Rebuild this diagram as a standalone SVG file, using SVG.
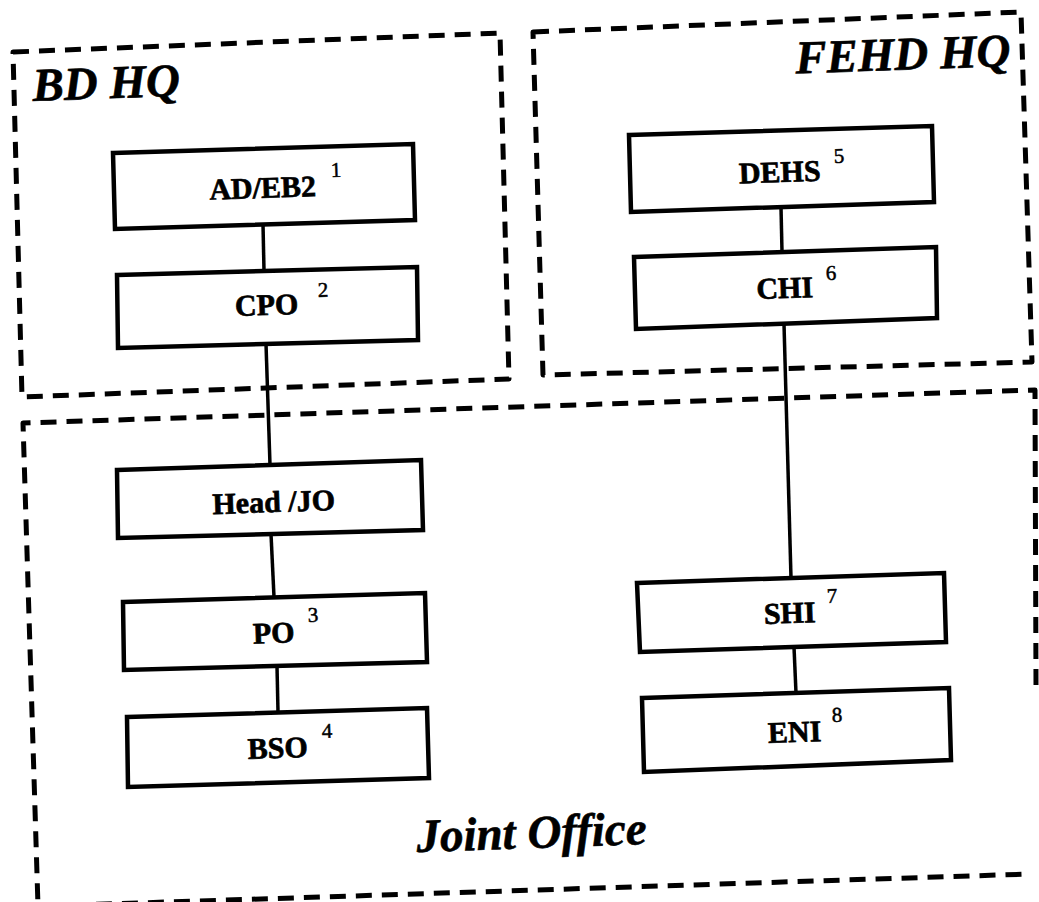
<svg xmlns="http://www.w3.org/2000/svg" width="1039" height="902" viewBox="0 0 1039 902">
<style>
.grp{fill:none;stroke:#000;stroke-width:5;stroke-dasharray:16 10;stroke-linejoin:round}
.box{fill:#fff;stroke:#000;stroke-width:4.5;stroke-linejoin:miter}
.conn{fill:none;stroke:#000;stroke-width:3.5}
.lbl{font-family:"Liberation Serif","Times New Roman",serif;font-weight:bold;font-size:30px;text-anchor:middle;fill:#000;stroke:#000;stroke-width:0.7}
.sup{font-family:"Liberation Serif","Times New Roman",serif;font-size:21px;fill:#000;stroke:#000;stroke-width:0.5}
.title{font-family:"Liberation Serif","Times New Roman",serif;font-weight:bold;font-style:italic;font-size:47px;fill:#000;stroke:#000;stroke-width:0.6}
</style>
<rect width="1039" height="902" fill="#fff"/>

<g id="group-bd-hq">
  <polygon class="grp" points="13,52 500,33 509,379 22,397"/>
  <text class="title" x="33" y="101" transform="rotate(-2 33 101)">BD HQ</text>
</g>
<g id="group-fehd-hq">
  <polygon class="grp" points="533,32 1021,12 1032,362 543,375"/>
  <text class="title" x="1011" y="66" text-anchor="end" transform="rotate(-2 1011 66)">FEHD HQ</text>
</g>
<g id="group-joint-office">
  <path class="grp" d="M1036,685 L1035,390 L23,423 L38,906"/>
  <path class="grp" d="M44,906 L1030,874"/>
  <text class="title" x="532" y="848" text-anchor="middle" transform="rotate(-2 532 848)">Joint Office</text>
</g>

<g id="connectors">
  <line class="conn" x1="263" y1="224" x2="264" y2="271"/>
  <line class="conn" x1="266" y1="344" x2="270" y2="465"/>
  <line class="conn" x1="271" y1="534" x2="274" y2="597"/>
  <line class="conn" x1="277" y1="666" x2="278" y2="712"/>
  <line class="conn" x1="781" y1="207" x2="782" y2="252"/>
  <line class="conn" x1="784" y1="324" x2="791" y2="578"/>
  <line class="conn" x1="794" y1="647" x2="796" y2="693"/>
</g>

<g id="node-adeb2">
  <polygon class="box" points="113,153 413,144 415,220 115,229"/>
  <text class="lbl" x="263" y="198" transform="rotate(-2 263 198)">AD/EB2</text>
  <text class="sup" x="331" y="177" transform="rotate(-2 331 177)">1</text>
</g>
<g id="node-cpo">
  <polygon class="box" points="117,275 417,267 418,340 118,348"/>
  <text class="lbl" x="267" y="315" transform="rotate(-2 267 315)">CPO</text>
  <text class="sup" x="318" y="297" transform="rotate(-2 318 297)">2</text>
</g>
<g id="node-headjo">
  <polygon class="box" points="117,470 421,460 423,530 118,538"/>
  <text class="lbl" x="274" y="512" transform="rotate(-2 274 512)">Head /JO</text>
</g>
<g id="node-po">
  <polygon class="box" points="123,602 425,593 427,662 124,670"/>
  <text class="lbl" x="274" y="643" transform="rotate(-2 274 643)">PO</text>
  <text class="sup" x="308" y="622" transform="rotate(-2 308 622)">3</text>
</g>
<g id="node-bso">
  <polygon class="box" points="127,717 427,708 429,778 128,787"/>
  <text class="lbl" x="278" y="758" transform="rotate(-2 278 758)">BSO</text>
  <text class="sup" x="322" y="738" transform="rotate(-2 322 738)">4</text>
</g>
<g id="node-dehs">
  <polygon class="box" points="629,135 932,126 934,202 631,212"/>
  <text class="lbl" x="780" y="182" transform="rotate(-2 780 182)">DEHS</text>
  <text class="sup" x="834" y="163" transform="rotate(-2 834 163)">5</text>
</g>
<g id="node-chi">
  <polygon class="box" points="634,257 936,247 937,318 636,329"/>
  <text class="lbl" x="785" y="298" transform="rotate(-2 785 298)">CHI</text>
  <text class="sup" x="826" y="280" transform="rotate(-2 826 280)">6</text>
</g>
<g id="node-shi">
  <polygon class="box" points="637,583 944,573 946,642 640,652"/>
  <text class="lbl" x="790" y="623" transform="rotate(-2 790 623)">SHI</text>
  <text class="sup" x="827" y="603" transform="rotate(-2 827 603)">7</text>
</g>
<g id="node-eni">
  <polygon class="box" points="642,698 949,688 951,760 644,772"/>
  <text class="lbl" x="795" y="742" transform="rotate(-2 795 742)">ENI</text>
  <text class="sup" x="832" y="722" transform="rotate(-2 832 722)">8</text>
</g>
</svg>
